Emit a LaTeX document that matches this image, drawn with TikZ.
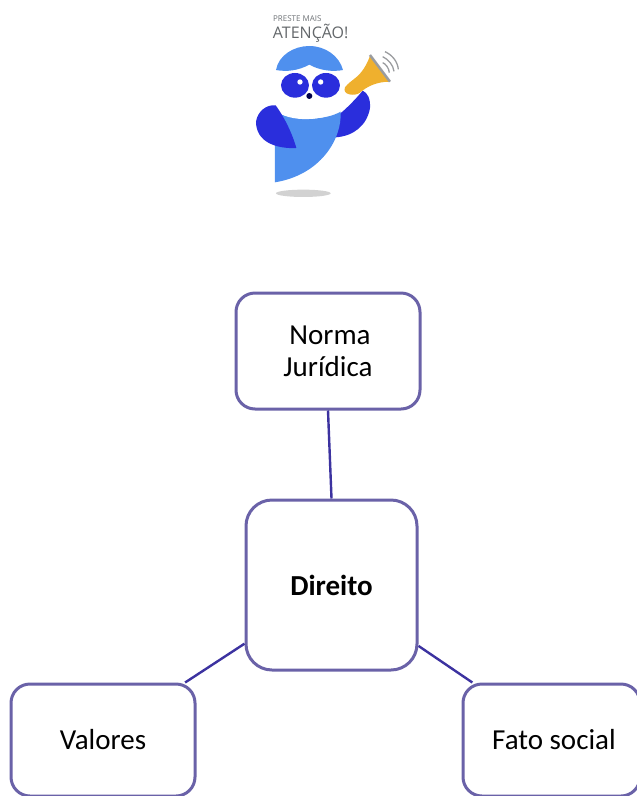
\documentclass[tikz,border=0pt]{standalone}
\usepackage{fontspec}
\setmainfont{Carlito}
\newfontfamily\owlfont{Open Sans}
\definecolor{boxline}{HTML}{6A62A8}
\definecolor{linkline}{HTML}{3C32A0}
\definecolor{owllight}{HTML}{4F90EE}
\definecolor{owldark}{HTML}{2A2EDC}
\definecolor{horn}{HTML}{EFB02E}
\definecolor{owlgray}{HTML}{6E7276}
\tikzset{
  box/.style={draw=boxline,line width=3pt,rounded corners=19pt,fill=white,inner sep=0pt,align=center,font=\fontsize{29}{32}\selectfont},
  link/.style={draw=linkline,line width=2.4pt},
  x=1pt,y=-1pt
}
\begin{document}
\begin{tikzpicture}
\useasboundingbox (0,0) rectangle (637,796);
\clip (0,0) rectangle (637,796);
% owl, in units of a 3x crop
\begin{scope}[shift={(230,0)},x=0.3333pt,y=-0.3333pt]
\fill[gray!35] (220,580) ellipse [x radius=82,y radius=11];
\fill[owldark] (318,412) .. controls (370,408) and (410,378) .. (420,325) .. controls (422,295) and (412,278) .. (398,272) .. controls (375,300) and (345,330) .. (325,345) -- cycle;
\fill[owllight] (152,342) .. controls (200,362) and (285,362) .. (332,335) .. controls (336,420) and (270,525) .. (135,547) -- (135,335) -- cycle;
\fill[white] (135,280) -- (135,330) .. controls (175,368) and (290,368) .. (340,320) -- (340,280) -- cycle;
\fill[owldark] (78,365) .. controls (83,333) and (110,313) .. (137,316) .. controls (162,350) and (187,400) .. (199,444) .. controls (140,447) and (78,427) .. (78,365) -- cycle;
\fill[owllight] (138,210) .. controls (146,165) and (192,138) .. (238,138) .. controls (286,138) and (328,168) .. (339,210) .. controls (310,216) and (270,212) .. (238,194) .. controls (205,212) and (170,216) .. (138,210) -- cycle;
\fill[owldark] (195,256) ellipse [x radius=42,y radius=37];
\fill[owldark] (288,256) ellipse [x radius=42,y radius=37];
\fill[white] (210,246) circle [radius=8];
\fill[white] (272,246) circle [radius=8];
\fill[black!70!blue] (238,288) circle [radius=9];
\fill[horn] (345,262) .. controls (365,235) and (395,235) .. (420,168) -- (480,245) .. controls (440,245) and (410,260) .. (390,278) .. controls (375,290) and (335,285) .. (345,262) -- cycle;
\draw[owlgray!70,line width=2.5pt] (420,165) -- (480,245);
\draw[owlgray!70,line width=1.3pt] (465,155) .. controls (487,165) and (503,185) .. (505,208);
\draw[owlgray!70,line width=1.3pt] (458,170) .. controls (475,178) and (490,195) .. (492,214);
\draw[owlgray!70,line width=1.3pt] (458,188) .. controls (468,192) and (477,205) .. (478,218);
\node[owlgray,font=\owlfont\fontsize{8}{9}\selectfont,anchor=center] (owlsmall) at (202,57) {PRESTE MAIS};
\node[owlgray!90!black,font=\owlfont\fontsize{16}{18}\selectfont,anchor=center] (owltitle) at (242,100) {ATENÇÃO!};
\end{scope}
% boxes
\node[box,minimum width=184pt,minimum height=116pt] (norma) at (328,351) {\hspace{4pt}Norma\\Jurídica};
\node[box,minimum width=171pt,minimum height=170pt,rounded corners=26pt] (direito) at (331.5,585) {\textbf{Direito}};
\node[box,minimum width=184pt,minimum height=112pt] (valores) at (103,740) {Valores};
\node[box,minimum width=177pt,minimum height=112pt] (fato) at (551.5,740) {\hspace{5pt}Fato social};
% connectors
\draw[link] (norma.south) -- (direito.north);
\draw[link] (direito.214.6) -- (valores.35);
\draw[link] (direito.-35.5) -- (fato.144.8);
\end{tikzpicture}
\end{document}
